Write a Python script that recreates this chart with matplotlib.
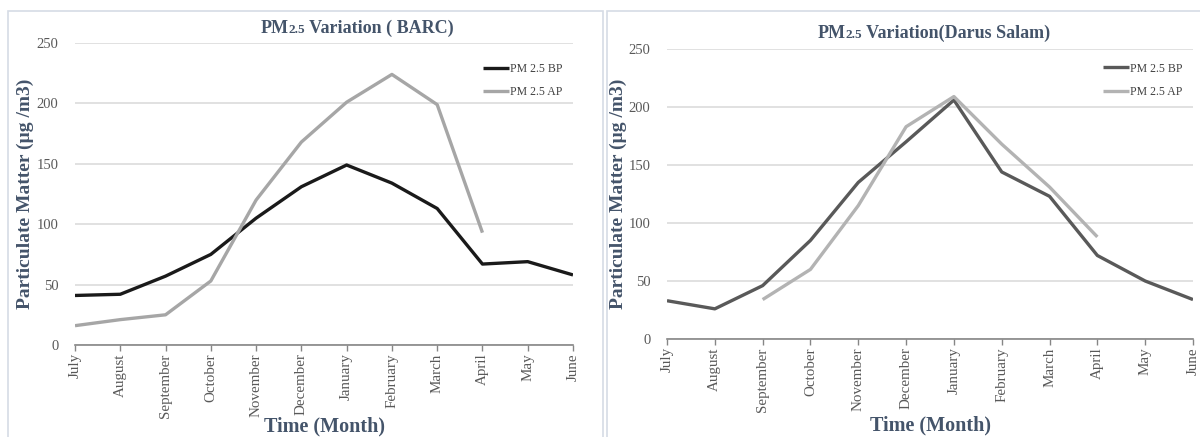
import matplotlib
matplotlib.use("Agg")
import matplotlib.pyplot as plt
from matplotlib.patches import Rectangle
import numpy as np

months = ["July", "August", "September", "October", "November", "December",
          "January", "February", "March", "April", "May", "June"]

barc_bp = [41, 42, 57, 75, 105, 131, 149, 134, 113, 67, 69, 58]
barc_ap = [16, 21, 25, 53, 120, 168, 201, 224, 199, 93, None, None]

darus_bp = [33, 26, 46, 85, 135, 170, 206, 144, 123, 72, 50, 34]
darus_ap = [None, None, 34, 60, 115, 183, 209, 168, 131, 88, None, None]

yticks = [0, 50, 100, 150, 200, 250]

W, H = 1200, 437
TXT = "#44546A"
SERIF = ["Liberation Serif", "DejaVu Serif"]
plt.rcParams["font.family"] = SERIF

fig = plt.figure(figsize=(W / 100, H / 100), dpi=100)


def px_axes(x0, x1, ytop, ybot):
    return fig.add_axes([x0 / W, 1 - ybot / H, (x1 - x0) / W, (ybot - ytop) / H])


def to_arr(v):
    return np.array([np.nan if a is None else a for a in v], dtype=float)


def style(ax):
    ax.set_xlim(0, len(months) - 1)
    ax.set_ylim(0, 250)
    ax.set_yticks(yticks)
    ax.set_yticklabels([str(t) for t in yticks], fontsize=10.5, color="#595959")
    ax.set_xticks(range(len(months)))
    ax.set_xticklabels(months, rotation=90, fontsize=10.8, color="#595959")
    for s in ["top", "right", "left"]:
        ax.spines[s].set_visible(False)
    ax.spines["bottom"].set_color("#868686")
    ax.spines["bottom"].set_linewidth(1.2)
    ax.tick_params(axis="y", length=0, pad=12)
    ax.tick_params(axis="x", length=4, width=1, color="#868686", pad=2)
    ax.grid(axis="y", color="#d9d9d9", linewidth=1.1)
    ax.set_axisbelow(True)
    ax.patch.set_alpha(0)


def draw_title(x_center, y, rest):
    r = fig.canvas.get_renderer()
    t1 = fig.text(0, 0, "PM", fontsize=13, fontweight="bold", color=TXT)
    t2 = fig.text(0, 0, "2.5", fontsize=9.5, fontweight="bold", color=TXT)
    t3 = fig.text(0, 0, rest, fontsize=13, fontweight="bold", color=TXT)
    w1 = t1.get_window_extent(r).width
    w2 = t2.get_window_extent(r).width
    w3 = t3.get_window_extent(r).width
    total = w1 + w2 + w3
    x = x_center - total / 2
    yb = H - y
    t1.set_position((x / W, yb / H))
    t2.set_position(((x + w1) / W, yb / H))
    t3.set_position(((x + w1 + w2) / W, yb / H))
    for t in (t1, t2, t3):
        t.set_va("baseline")
        t.set_ha("left")


# panel borders
fig.patches.append(Rectangle((8 / W, -0.1), (603 - 8) / W, 1.1 - 11 / H,
                             transform=fig.transFigure, fill=False,
                             edgecolor="#d6dce5", linewidth=1.2))
fig.patches.append(Rectangle((607 / W, -0.1), (1205 - 607) / W, 1.1 - 11 / H,
                             transform=fig.transFigure, fill=False,
                             edgecolor="#d6dce5", linewidth=1.2))

x = np.arange(len(months))

# left panel
ax1 = px_axes(75, 573, 43, 345)
style(ax1)
ax1.plot(x, to_arr(barc_bp), color="#1a1a1a", lw=2.4, label="PM 2.5 BP", solid_capstyle="butt")
ax1.plot(x, to_arr(barc_ap), color="#a6a6a6", lw=2.4, label="PM 2.5 AP", solid_capstyle="butt")
ax1.set_ylabel("Particulate Matter (\u00b5g /m3)", fontsize=14, fontweight="bold", color=TXT)
ax1.yaxis.set_label_coords((34 - 75) / 498, 0.5)
ax1.set_xlabel("Time (Month)", fontsize=14.5, fontweight="bold", color=TXT)
ax1.xaxis.set_label_coords(0.5, (345 - 416) / 302)
ax1.legend(loc="upper right", bbox_to_anchor=(1.0, 0.97), frameon=False,
           fontsize=8.5, handlelength=2.2, handletextpad=0.1,
           labelspacing=1.0, labelcolor="#404040")

# right panel
ax2 = px_axes(667, 1193, 49, 339)
style(ax2)
ax2.plot(x, to_arr(darus_bp), color="#595959", lw=2.4, label="PM 2.5 BP", solid_capstyle="butt")
ax2.plot(x, to_arr(darus_ap), color="#b3b3b3", lw=2.4, label="PM 2.5 AP", solid_capstyle="butt")
ax2.set_ylabel("Particulate Matter (\u00b5g /m3)", fontsize=14, fontweight="bold", color=TXT)
ax2.yaxis.set_label_coords((627 - 667) / 526, 0.5)
ax2.set_xlabel("Time (Month)", fontsize=14.5, fontweight="bold", color=TXT)
ax2.xaxis.set_label_coords(0.5, (339 - 415) / 290)
ax2.legend(loc="upper right", bbox_to_anchor=(1.0, 0.99), frameon=False,
           fontsize=8.5, handlelength=2.2, handletextpad=0.1,
           labelspacing=1.0, labelcolor="#404040")

draw_title(357, 33, " Variation ( BARC)")
draw_title(934, 38, " Variation(Darus Salam)")

fig.savefig("out.png", dpi=100)
